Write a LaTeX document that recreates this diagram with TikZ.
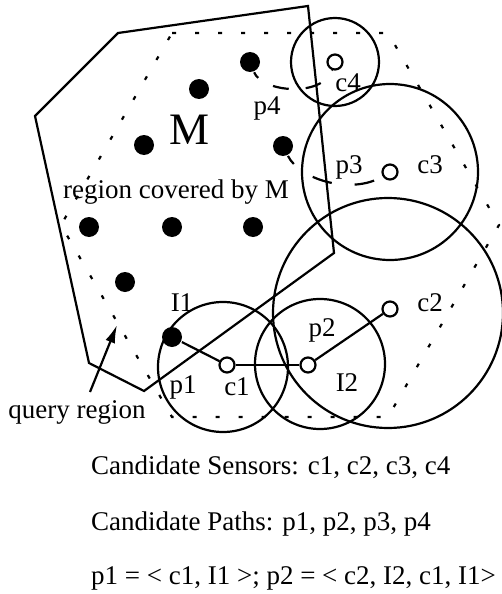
\documentclass[tikz,border=0pt]{standalone}
\usepackage{fontspec}
\setmainfont{Liberation Serif}
\usetikzlibrary{arrows.meta}

\begin{document}
\begin{tikzpicture}[x=1pt,y=-1pt,line width=2.2pt,
    every node/.style={font=\fontsize{27}{32}\selectfont},
    dot/.style={circle,fill=black,inner sep=0pt,minimum size=20pt},
    sensor/.style={circle,draw,inner sep=0pt,minimum size=15pt},
    lbl/.style={inner sep=0pt},
    query/.style={dash pattern=on 4pt off 19pt},
    pathdash/.style={dash pattern=on 16pt off 17pt}]
    \useasboundingbox (0,0) rectangle (501,594);

    % query region (dotted hexagon)
    \draw[query] (172,33) -- (388,33) -- (499,225) -- (388,417) -- (172,417) -- (61,225) -- cycle;

    % region covered by M
    \draw[line join=miter] (118,33) -- (308,6) -- (334,253) -- (144,391) -- (89,363) -- (35,116) -- cycle;

    % points of M
    \node[dot] (m1) at (250,62) {};
    \node[dot] (m2) at (199,89) {};
    \node[dot] (m3) at (144,145) {};
    \node[dot] (m4) at (283,146) {};
    \node[dot] (m5) at (89,227) {};
    \node[dot] (m6) at (172,227) {};
    \node[dot] (m7) at (253,227) {};
    \node[dot] (m8) at (125,282) {};
    \node[dot] (i1) at (172,337) {};

    % candidate sensors
    \node[sensor] (c1) at (227,365) {};
    \node[sensor] (i2) at (308,365) {};
    \node[sensor] (c2) at (390,309) {};
    \node[sensor] (c3) at (390,172) {};
    \node[sensor] (c4) at (335,62) {};

    % sensing ranges
    \draw (223,367) circle (65pt);
    \draw (320,364) circle (65pt);
    \draw (388,313) circle (115pt);
    \draw (390,172) circle (88pt);
    \draw (335,62) circle (44pt);

    % paths p1, p2
    \draw (i1) -- (c1);
    \draw (c1) -- (i2);
    \draw (i2) -- (c2);

    % paths p3, p4
    \draw[pathdash,dash phase=9pt] (m1) .. controls (262,92) and (322,98) .. (c4);
    \draw[pathdash,dash pattern=on 20pt off 23pt,dash phase=10pt] (m4) .. controls (300,180) and (352,195) .. (c3);

    % labels
    \node[lbl,font=\fontsize{45}{50}\selectfont] (labM) at (190,130) {M};
    \node[lbl] (labreg) at (176,192) {region covered by M};
    \node[lbl] (labp4) at (267,108) {p4};
    \node[lbl] (labc4) at (348,83) {c4};
    \node[lbl] (labp3) at (349,167) {p3};
    \node[lbl] (labc3) at (430,165) {c3};
    \node[lbl] (labc2) at (430,303) {c2};
    \node[lbl] (labp2) at (322,330) {p2};
    \node[lbl] (labI2) at (347,383) {I2};
    \node[lbl] (labI1) at (182,303) {I1};
    \node[lbl] (labp1) at (183,387) {p1};
    \node[lbl] (labc1) at (237,387) {c1};

    % query region arrow
    \node[lbl] (labq) at (77,412) {query region};
    \coordinate (qtail) at (90,392);
    \coordinate (qtip) at (117,325);
    \draw[-{Latex[length=18pt,width=10pt]}] (qtail) -- (qtip);

    % candidate lists
    \node[lbl,anchor=base west] (sens) at (90,474) {Candidate Sensors: c1, c2, c3, c4};
    \node[lbl,anchor=base west] (paths) at (90,530) {Candidate Paths: p1, p2, p3, p4};
    \node[lbl,anchor=base west] (defs) at (90,584) {p1 = < c1, I1 >; p2 = < c2, I2, c1, I1>};
\end{tikzpicture}
\end{document}
